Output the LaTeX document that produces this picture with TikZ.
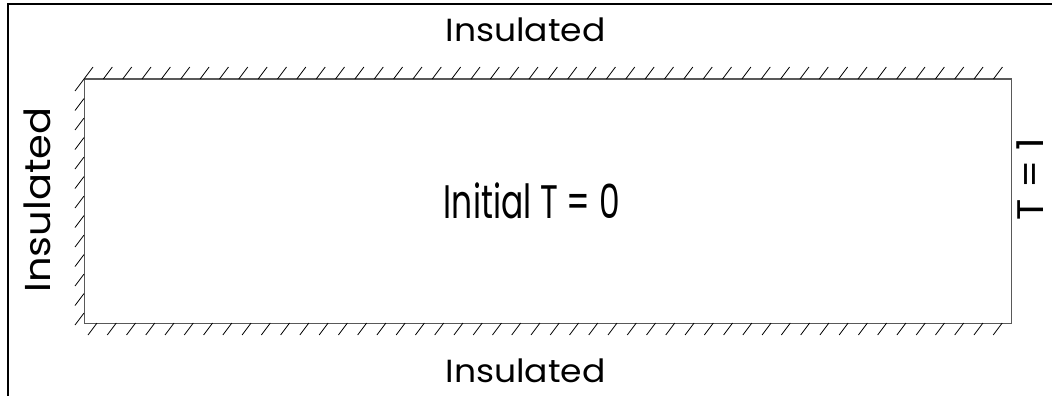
\documentclass[tikz,border=0pt]{standalone}
\usepackage{fontspec}
\setmainfont{Poppins}
\usepackage{tikz}

\begin{document}
\begin{tikzpicture}[x=1pt, y=-1pt,
  wall/.style={draw=black!65, line width=1pt},
  hatch/.style={black, line width=0.8pt},
  label/.style={inner sep=0pt, anchor=base}]
  \useasboundingbox (0,0) rectangle (1052,396);

  % outer frame (left and top only)
  \draw[line width=2pt] (8,396) -- (8,4) -- (1052,4);

  % the slab
  \coordinate (nw) at (84,79);
  \coordinate (se) at (1011,323);
  \draw[wall] (nw) rectangle (se);

  % insulated walls
  \foreach \x in {84,103.35,...,1000}
    \draw[hatch] (\x,79) -- ++(9,-12);
  \foreach \x in {97,116.26,...,1005}
    \draw[hatch] (\x,323) -- ++(-9,12);
  \foreach \y in {79,98.5,...,315}
    \draw[hatch] (84,\y) -- ++(-9,12);

  \node[label, font=\fontsize{32}{32}\selectfont] (top) at (525.5,42) {\scalebox{1.08}[1]{Insulated}};
  \node[label, font=\fontsize{32}{32}\selectfont] (bottom) at (525.5,382) {\scalebox{1.08}[1]{Insulated}};
  \node[label, rotate=90, font=\fontsize{36}{36}\selectfont] (left) at (50,200) {\scalebox{1.11}[1]{Insulated}};
  \node[label, rotate=90, text depth=0pt, font=\fontsize{37}{37}\selectfont] (right) at (1043,179) {\scalebox{1.06}[1]{T = 1}};
  \node[label, font=\fontsize{47}{47}\selectfont] (init) at (532,218) {\scalebox{0.7}[1]{Initial T = 0}};
\end{tikzpicture}
\end{document}
